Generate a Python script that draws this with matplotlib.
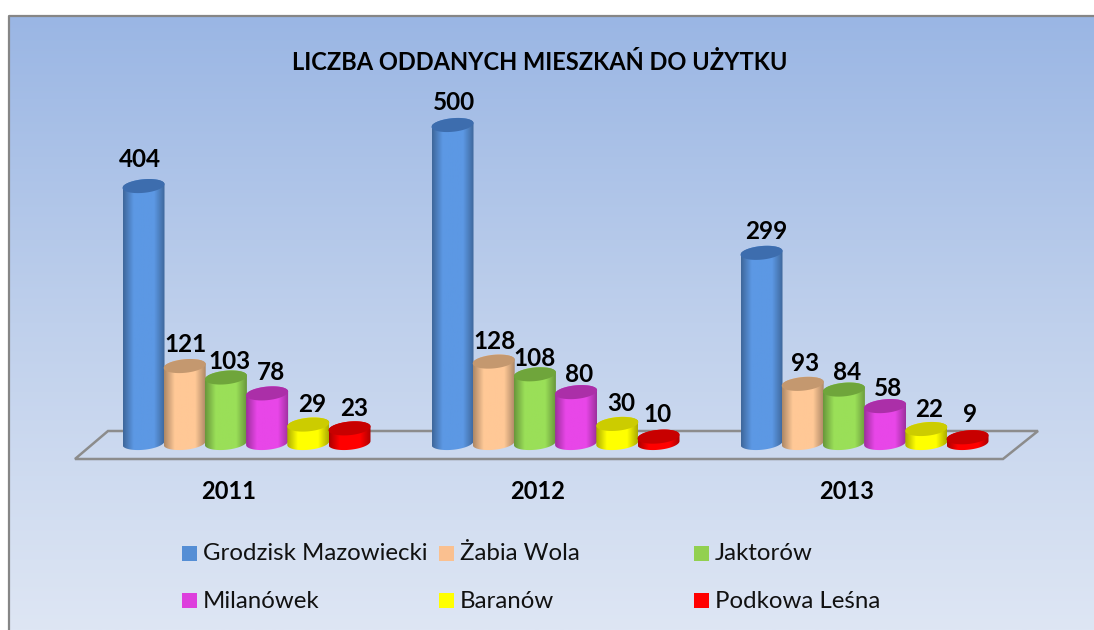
import numpy as np
import matplotlib
matplotlib.use('Agg')
import matplotlib.pyplot as plt
from matplotlib.colors import LinearSegmentedColormap
from matplotlib.patches import PathPatch, Polygon, Rectangle
from matplotlib.path import Path

# data
years = ['2011', '2012', '2013']
towns = ['Grodzisk Mazowiecki', 'Żabia Wola', 'Jaktorów', 'Milanówek', 'Baranów', 'Podkowa Leśna']
grodzisk = [404, 500, 299]
zabia_wola = [121, 128, 93]
jaktorow = [103, 108, 84]
milanowek = [78, 80, 58]
baranow = [29, 30, 22]
podkowa = [23, 10, 9]
series = [grodzisk, zabia_wola, jaktorow, milanowek, baranow, podkowa]

# colours: legend / side of the cylinder / top of the cylinder
colors = ['#558ED5', '#FAC090', '#92D050', '#DD3FDD', '#FFFF00', '#FF0000']
side_colors = ['#5C98E4', '#FFC896', '#9ADF58', '#E846E8', '#FFFF00', '#FF0000']
top_colors = ['#3D6DAE', '#C4986F', '#6FA53B', '#AB2FA8', '#CCCC00', '#C80000']

FIG_W, FIG_H = 1094, 630
# scale of the chart in picture pixels
X0_PX = 246.5      # centre of the first group
GROUP_PX = 309.0   # pixels between groups
BASE_PX = 443.0    # row of value 0
UNIT_PX = 0.636    # pixels for one flat
BAR_A = 21.0       # half width of a cylinder
BAR_B = 6.8        # half height of its ellipse
TILT = 0.09
STEP = 41.2 / GROUP_PX

fig = plt.figure(figsize=(FIG_W / 100, FIG_H / 100), dpi=100)
ax = fig.add_axes([0, 0, 1, 1])
xlim = (-X0_PX / GROUP_PX, (FIG_W - X0_PX) / GROUP_PX)
ylim = ((BASE_PX - FIG_H) / UNIT_PX, BASE_PX / UNIT_PX)


def px(x, y):
    """picture pixels -> data coordinates"""
    return (x - X0_PX) / GROUP_PX, (BASE_PX - y) / UNIT_PX


def arc(cx, value, start, stop):
    """points of the tilted ellipse at height value, angles in degrees"""
    t = np.radians(np.linspace(start, stop, 60))
    dx = BAR_A * np.cos(t)
    dy = BAR_B * np.sin(t) + TILT * dx
    return np.column_stack([cx + dx / GROUP_PX, value + dy / UNIT_PX])


def draw_cylinder(cx, value, color, top_color):
    dark = tuple(0.68 * c for c in matplotlib.colors.to_rgb(color))
    cmap = LinearSegmentedColormap.from_list('c', [dark, color, color, color, dark])
    shade = np.linspace(0, 1, 64).reshape(1, -1)
    left = cx - BAR_A / GROUP_PX
    right = cx + BAR_A / GROUP_PX
    im = ax.imshow(shade, cmap=cmap, aspect='auto', zorder=3,
                   extent=(left, right, -BAR_B * 2 / UNIT_PX, value + BAR_B * 2 / UNIT_PX))
    # side = lower arc of the foot + upper arc of the top
    side = np.vstack([arc(cx, 0, 180, 360), arc(cx, value, 0, 180)])
    clip = PathPatch(Path(side), transform=ax.transData, fc='none', ec='none')
    ax.add_patch(clip)
    im.set_clip_path(clip)
    ax.add_patch(Polygon(arc(cx, value, 0, 360), closed=True, fc=top_color, ec='none', zorder=3))


# background with the gradient
bg_cmap = LinearSegmentedColormap.from_list('bg', ['#9AB6E4', '#BFD0EC', '#DEE6F4'])
left_edge, top_edge = px(8.5, 15.5)
ax.imshow(np.linspace(0, 1, 256).reshape(-1, 1), cmap=bg_cmap, aspect='auto', zorder=0,
          extent=(left_edge, xlim[1], ylim[0], top_edge))
ax.plot([left_edge, left_edge, xlim[1]], [ylim[0], top_edge, top_edge], color='#868686', lw=1.6, zorder=1)

# floor of the 3D chart
floor = [px(75, 459), px(108, 431), px(1038, 431), px(1003, 459)]
ax.add_patch(Polygon(floor, closed=True, fc='none', ec='#8C8C8C', lw=1.8, zorder=2))

for j, values in enumerate(series):
    for i, value in enumerate(values):
        draw_cylinder(i + (j - 2.5) * STEP, value, side_colors[j], top_colors[j])

# nudges of the value labels from the top of each bar, in pixels
label_dx = [[-4, 1, 4, 4, 4, 5], [1, 1, 0, 3, 4, -1], [5, 2, 3, 3, 3, 3]]
label_dy = [[27, 22, 16, 21, 20, 20], [22, 20, 16, 18, 20, 22], [21, 20, 17, 18, 20, 23]]
for j, values in enumerate(series):
    for i, value in enumerate(values):
        ax.annotate(str(value), (i + (j - 2.5) * STEP, value),
                    xytext=(label_dx[i][j] * 0.72, label_dy[i][j] * 0.72), textcoords='offset points',
                    ha='center', va='center', fontsize=17.5, fontweight='bold',
                    family='Lato', color='black', zorder=5)

for i, year in enumerate(years):
    x, y = px(229 + i * GROUP_PX, 491.5)
    ax.text(x, y, year, ha='center', va='center', fontsize=17, fontweight='bold', family='Lato', zorder=5)

tx, ty = px(540, 62)
ax.text(tx, ty, 'LICZBA ODDANYCH MIESZKAŃ DO UŻYTKU', ha='center', va='center',
        fontsize=17, fontweight='bold', family='Lato', zorder=5)

# legend, filled row by row like the original
legend_x = [182, 439, 694]
legend_y = [553, 600]
for j, town in enumerate(towns):
    lx = legend_x[j % 3]
    ly = legend_y[j // 3]
    x0, y0 = px(lx, ly + 7.5)
    x1, y1 = px(lx + 15, ly - 7.5)
    ax.add_patch(Rectangle((x0, y0), x1 - x0, y1 - y0, fc=colors[j], ec='none', zorder=5))
    x2, y2 = px(lx + 21, ly + 1)
    ax.text(x2, y2, town, ha='left', va='center', fontsize=17.3, family='Lato', color='#111111', zorder=5)

ax.set_xlim(xlim)
ax.set_ylim(ylim)
ax.axis('off')
fig.patch.set_facecolor('white')
fig.savefig('out.png', dpi=100)
